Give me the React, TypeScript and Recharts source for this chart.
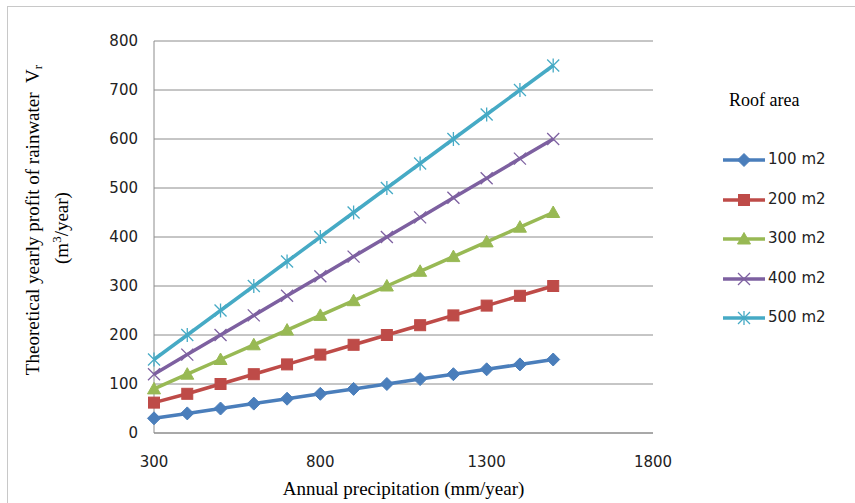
import React from 'react';
import { LineChart, Line, XAxis, YAxis, CartesianGrid, Legend } from 'recharts';

const precipitation = [300, 400, 500, 600, 700, 800, 900, 1000, 1100, 1200, 1300, 1400, 1500];
const area100 = [30, 40, 50, 60, 70, 80, 90, 100, 110, 120, 130, 140, 150];
const area200 = [62, 80, 100, 120, 140, 160, 180, 200, 220, 240, 260, 280, 300];
const area300 = [90, 120, 150, 180, 210, 240, 270, 300, 330, 360, 390, 420, 450];
const area400 = [120, 160, 200, 240, 280, 320, 360, 400, 440, 480, 520, 560, 600];
const area500 = [150, 200, 250, 300, 350, 400, 450, 500, 550, 600, 650, 700, 750];

const seriesNames = ['100 m2', '200 m2', '300 m2', '400 m2', '500 m2'];
const seriesKeys = ['a100', 'a200', 'a300', 'a400', 'a500'];
const seriesColors = ['#4A7EBB', '#BE4B48', '#98B954', '#7D60A0', '#46AAC5'];
const seriesMarkers = ['diamond', 'square', 'triangle', 'cross', 'star'];

const xTicks = [300, 800, 1300, 1800];
const yTicks = [0, 100, 200, 300, 400, 500, 600, 700, 800];

const legendTitle = 'Roof area';
const xTitle = 'Annual precipitation (mm/year)';

const data = precipitation.map((p, i) => ({
  p,
  a100: area100[i],
  a200: area200[i],
  a300: area300[i],
  a400: area400[i],
  a500: area500[i],
}));

function markerShape(kind: string, cx: number, cy: number, color: string, key?: any) {
  switch (kind) {
    case 'diamond':
      return (
        <polygon key={key} points={`${cx},${cy - 6.5} ${cx + 6.5},${cy} ${cx},${cy + 6.5} ${cx - 6.5},${cy}`} fill={color} stroke={color} />
      );
    case 'square':
      return <rect key={key} x={cx - 5.5} y={cy - 5.5} width={11} height={11} fill={color} stroke={color} />;
    case 'triangle':
      return (
        <polygon key={key} points={`${cx},${cy - 6.5} ${cx + 6.5},${cy + 5} ${cx - 6.5},${cy + 5}`} fill={color} stroke={color} />
      );
    case 'cross':
      return (
        <g key={key} stroke={color} strokeWidth={1.3}>
          <line x1={cx - 6} y1={cy - 6} x2={cx + 6} y2={cy + 6} />
          <line x1={cx - 6} y1={cy + 6} x2={cx + 6} y2={cy - 6} />
        </g>
      );
    case 'star':
    default:
      return (
        <g key={key} stroke={color} strokeWidth={1.3}>
          <line x1={cx - 6} y1={cy - 6} x2={cx + 6} y2={cy + 6} />
          <line x1={cx - 6} y1={cy + 6} x2={cx + 6} y2={cy - 6} />
          <line x1={cx} y1={cy - 7} x2={cx} y2={cy + 7} />
        </g>
      );
  }
}

const makeDot = (kind: string, color: string) => (props: any) => {
  const { cx, cy, index } = props;
  if (cx == null || cy == null) return <g key={`e-${index}`} />;
  return markerShape(kind, cx, cy, color, `d-${index}`);
};

const LegendContent = () => (
  <div style={{ position: 'relative', width: 150, height: 260 }}>
    <div
      style={{
        position: 'absolute',
        left: 29,
        top: 10,
        fontFamily: '"Liberation Serif", "Times New Roman", serif',
        fontSize: 18,
        color: '#000',
        whiteSpace: 'nowrap',
      }}
    >
      {legendTitle}
    </div>
    {seriesNames.map((name, i) => (
      <div key={name} style={{ position: 'absolute', left: 22, top: 72 + i * 39.5, height: 16, whiteSpace: 'nowrap' }}>
        <svg width={46} height={16} style={{ position: 'absolute', left: 0, top: 0 }}>
          <line x1={1} y1={8} x2={43} y2={8} stroke={seriesColors[i]} strokeWidth={3.5} />
          {markerShape(seriesMarkers[i], 22, 8, seriesColors[i])}
        </svg>
        <span
          style={{
            position: 'absolute',
            left: 46,
            top: -2,
            fontFamily: '"DejaVu Sans", Verdana, sans-serif',
            fontSize: 15,
            color: '#222',
          }}
        >
          {name}
        </span>
      </div>
    ))}
  </div>
);

export default function App() {
  return (
    <div style={{ position: 'absolute', left: 0, top: 0, width: 855, height: 503, background: '#fff' }}>
      <div
        style={{
          position: 'absolute',
          left: 7,
          top: 6,
          width: 847,
          height: 496,
          borderLeft: '1px solid #c8c8c8',
          borderTop: '1px solid #c8c8c8',
        }}
      />
      <LineChart
        width={855}
        height={503}
        data={data}
        margin={{ top: 41, right: 202, bottom: 40, left: 94 }}
        style={{ position: 'absolute', left: 0, top: 0 }}
      >
        <CartesianGrid horizontal={true} vertical={false} stroke="#8c8c8c" strokeWidth={1} />
        <XAxis
          dataKey="p"
          type="number"
          domain={[300, 1800]}
          ticks={xTicks}
          height={30}
          tickLine={false}
          tickSize={0}
          tickMargin={23}
          axisLine={{ stroke: '#8c8c8c' }}
          tick={{ fill: '#222', fontSize: 15, fontFamily: '"DejaVu Sans", Verdana, sans-serif' }}
          label={{
            content: (p: any) => {
              const vb = p.viewBox || { x: 154, width: 499 };
              return (
                <text
                  x={vb.x + vb.width / 2}
                  y={495}
                  textAnchor="middle"
                  fontFamily='"Liberation Serif", "Times New Roman", serif'
                  fontSize={19}
                  fill="#000"
                >
                  {xTitle}
                </text>
              );
            },
          }}
        />
        <YAxis
          type="number"
          domain={[0, 800]}
          ticks={yTicks}
          width={60}
          tickLine={false}
          tickSize={0}
          tickMargin={16}
          axisLine={{ stroke: '#8c8c8c' }}
          tick={{ fill: '#222', fontSize: 15, fontFamily: '"DejaVu Sans", Verdana, sans-serif' }}
          label={{
            content: () => (
              <g fontFamily='"Liberation Serif", "Times New Roman", serif' fill="#000">
                <text x={39} y={220} transform="rotate(-90, 39, 220)" textAnchor="middle" fontSize={19}>
                  Theoretical yearly profit of rainwater{'\u00a0\u00a0'}V
                  <tspan fontSize={13} dy={3}>r</tspan>
                </text>
                <text x={68} y={228} transform="rotate(-90, 68, 228)" textAnchor="middle" fontSize={19}>
                  (m<tspan fontSize={13} dy={-7}>3</tspan>
                  <tspan dy={7}>/year)</tspan>
                </text>
              </g>
            ),
          }}
        />
        <Legend
          verticalAlign="middle"
          align="center"
          layout="vertical"
          content={() => <LegendContent />}
          wrapperStyle={{ position: 'absolute', left: 700, top: 80, width: 150, height: 260 }}
        />
        {seriesKeys.map((k, i) => (
          <Line
            key={k}
            type="linear"
            dataKey={k}
            name={seriesNames[i]}
            stroke={seriesColors[i]}
            strokeWidth={3.5}
            dot={makeDot(seriesMarkers[i], seriesColors[i])}
            activeDot={false}
            isAnimationActive={false}
          />
        ))}
      </LineChart>
    </div>
  );
}
